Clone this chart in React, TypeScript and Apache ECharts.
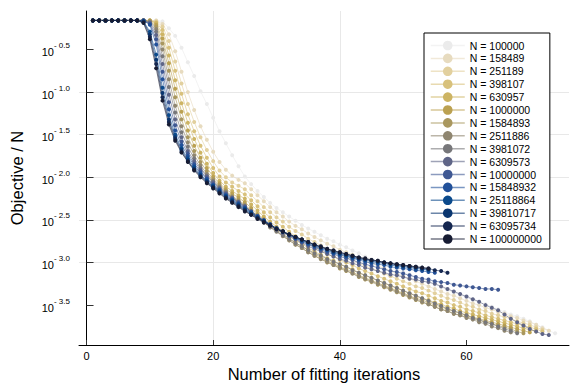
import React, { useEffect, useRef } from "react";
import * as echarts from "echarts";

// Objective / N is stored as log10 exponents (y axis is logarithmic, labelled 10^x).
const seriesNames = [
  "N = 100000", "N = 158489", "N = 251189", "N = 398107", "N = 630957",
  "N = 1000000", "N = 1584893", "N = 2511886", "N = 3981072", "N = 6309573",
  "N = 10000000", "N = 15848932", "N = 25118864", "N = 39810717", "N = 63095734",
  "N = 100000000",
];
const colors = [
  "#ebebeb", "#e7dbbf", "#e2d09e", "#d8c17b", "#cdb463",
  "#bba151", "#a9975e", "#8f8670", "#77777a", "#5f6587",
  "#3f5893", "#22519a", "#0b4a8c", "#0a3670", "#152750",
  "#171c33",
];
const xTicks = [0, 20, 40, 60];
const yTickExponents = [-3.5, -3.0, -2.5, -2.0, -1.5, -1.0, -0.5];

const s0 = [-0.159,-0.159,-0.159,-0.159,-0.159,-0.159,-0.159,-0.159,-0.159,-0.159,-0.159,
  -0.17,-0.25,-0.34,-0.48,-0.65,-0.81,-0.99,-1.14,-1.30,-1.46,-1.60,-1.74,-1.87,-1.99,
  -2.08,-2.16,-2.23,-2.30,-2.36,-2.41,-2.46,-2.51,-2.56,-2.60,-2.64,-2.68,-2.72,-2.75,-2.79,
  -2.82,-2.86,-2.89,-2.93,-2.96,-2.99,-3.02,-3.05,-3.08,-3.11,-3.14,-3.17,-3.20,-3.23,-3.26,
  -3.29,-3.32,-3.35,-3.38,-3.41,-3.44,-3.47,-3.49,-3.52,-3.55,-3.58,-3.61,-3.63,-3.66,-3.69,-3.73,-3.76,-3.80,-3.83];
const s1 = [-0.159,-0.159,-0.159,-0.159,-0.159,-0.159,-0.159,-0.159,-0.159,-0.159,
  -0.16,-0.20,-0.32,-0.52,-0.76,-1.00,-1.21,-1.40,-1.56,-1.70,-1.82,-1.91,-1.98,-2.03,-2.07,
  -2.14,-2.21,-2.28,-2.35,-2.41,-2.46,-2.52,-2.57,-2.61,-2.66,-2.70,-2.74,-2.78,-2.81,-2.85,
  -2.88,-2.91,-2.95,-2.98,-3.01,-3.04,-3.07,-3.10,-3.13,-3.16,-3.19,-3.22,-3.25,-3.28,-3.31,
  -3.34,-3.37,-3.39,-3.42,-3.45,-3.48,-3.50,-3.53,-3.55,-3.58,-3.60,-3.63,-3.65,-3.68,-3.70,-3.73,-3.77,-3.80];
const s2 = [-0.159,-0.159,-0.159,-0.159,-0.159,-0.159,-0.159,-0.159,-0.159,-0.159,
  -0.17,-0.23,-0.40,-0.64,-0.90,-1.14,-1.35,-1.53,-1.68,-1.81,-1.92,-2.00,-2.06,-2.10,-2.14,
  -2.21,-2.28,-2.35,-2.41,-2.47,-2.52,-2.58,-2.63,-2.67,-2.72,-2.76,-2.80,-2.84,-2.87,-2.91,
  -2.94,-2.97,-3.01,-3.04,-3.07,-3.10,-3.13,-3.16,-3.19,-3.22,-3.25,-3.28,-3.30,-3.33,-3.36,
  -3.39,-3.42,-3.44,-3.47,-3.50,-3.52,-3.55,-3.57,-3.60,-3.62,-3.64,-3.66,-3.69,-3.71,-3.73,-3.76,-3.79];
const s3 = [-0.159,-0.159,-0.159,-0.159,-0.159,-0.159,-0.159,-0.159,-0.159,-0.159,
  -0.18,-0.27,-0.48,-0.75,-1.02,-1.26,-1.46,-1.63,-1.77,-1.89,-1.99,-2.06,-2.11,-2.16,-2.20,
  -2.27,-2.34,-2.41,-2.47,-2.53,-2.58,-2.64,-2.69,-2.73,-2.78,-2.82,-2.86,-2.90,-2.93,-2.97,
  -3.00,-3.03,-3.07,-3.10,-3.13,-3.16,-3.19,-3.22,-3.25,-3.28,-3.31,-3.34,-3.36,-3.39,-3.42,
  -3.45,-3.47,-3.50,-3.52,-3.55,-3.57,-3.59,-3.62,-3.64,-3.66,-3.68,-3.70,-3.72,-3.74,-3.76,-3.78,-3.81];
const s4 = [-0.159,-0.159,-0.159,-0.159,-0.159,-0.159,-0.159,-0.159,-0.159,-0.159,
  -0.19,-0.32,-0.57,-0.86,-1.13,-1.36,-1.55,-1.71,-1.84,-1.95,-2.04,-2.11,-2.16,-2.21,-2.25,
  -2.32,-2.39,-2.46,-2.52,-2.58,-2.63,-2.69,-2.74,-2.78,-2.83,-2.87,-2.91,-2.95,-2.98,-3.02,
  -3.05,-3.08,-3.12,-3.15,-3.18,-3.21,-3.24,-3.27,-3.30,-3.33,-3.36,-3.39,-3.42,-3.44,-3.47,
  -3.49,-3.52,-3.54,-3.57,-3.59,-3.61,-3.63,-3.65,-3.67,-3.69,-3.71,-3.73,-3.75,-3.77,-3.79,-3.81];
const s5 = [-0.159,-0.159,-0.159,-0.159,-0.159,-0.159,-0.159,-0.159,-0.159,
  -0.16,-0.21,-0.37,-0.66,-0.96,-1.23,-1.45,-1.63,-1.77,-1.89,-1.99,-2.07,-2.14,-2.19,-2.24,-2.29,
  -2.36,-2.43,-2.49,-2.55,-2.61,-2.66,-2.72,-2.77,-2.81,-2.86,-2.90,-2.94,-2.98,-3.01,-3.05,
  -3.08,-3.11,-3.15,-3.18,-3.21,-3.24,-3.27,-3.30,-3.33,-3.36,-3.39,-3.42,-3.44,-3.47,-3.50,
  -3.52,-3.55,-3.57,-3.60,-3.62,-3.64,-3.66,-3.68,-3.70,-3.72,-3.74,-3.76,-3.78,-3.80,-3.82];
const s6 = [-0.159,-0.159,-0.159,-0.159,-0.159,-0.159,-0.159,-0.159,-0.159,
  -0.17,-0.23,-0.43,-0.75,-1.06,-1.32,-1.53,-1.69,-1.82,-1.93,-2.02,-2.09,-2.16,-2.22,-2.27,-2.32,
  -2.39,-2.45,-2.52,-2.58,-2.63,-2.69,-2.74,-2.79,-2.83,-2.88,-2.92,-2.96,-3.00,-3.03,-3.07,
  -3.10,-3.13,-3.17,-3.20,-3.23,-3.26,-3.29,-3.32,-3.35,-3.38,-3.41,-3.44,-3.47,-3.49,-3.52,
  -3.55,-3.57,-3.60,-3.62,-3.64,-3.66,-3.68,-3.70,-3.72,-3.74,-3.76,-3.78,-3.81,-3.83];
const s7 = [-0.159,-0.159,-0.159,-0.159,-0.159,-0.159,-0.159,-0.159,-0.159,
  -0.17,-0.26,-0.50,-0.85,-1.16,-1.40,-1.59,-1.74,-1.86,-1.96,-2.04,-2.11,-2.17,-2.23,-2.28,-2.33,
  -2.40,-2.47,-2.53,-2.59,-2.64,-2.69,-2.74,-2.79,-2.83,-2.88,-2.92,-2.96,-2.99,-3.03,-3.06,
  -3.09,-3.13,-3.16,-3.19,-3.22,-3.25,-3.28,-3.31,-3.34,-3.37,-3.40,-3.43,-3.46,-3.49,-3.52,
  -3.55,-3.57,-3.60,-3.62,-3.65,-3.67,-3.70,-3.72,-3.75,-3.77,-3.80,-3.82];
const s8 = [-0.159,-0.159,-0.159,-0.159,-0.159,-0.159,-0.159,-0.159,-0.159,
  -0.18,-0.29,-0.58,-0.94,-1.24,-1.47,-1.64,-1.78,-1.89,-1.98,-2.05,-2.12,-2.18,-2.24,-2.29,-2.34,
  -2.41,-2.47,-2.53,-2.58,-2.63,-2.68,-2.72,-2.77,-2.81,-2.85,-2.89,-2.92,-2.96,-2.99,-3.02,
  -3.05,-3.09,-3.12,-3.15,-3.18,-3.21,-3.24,-3.27,-3.30,-3.33,-3.36,-3.39,-3.42,-3.45,-3.48,
  -3.51,-3.54,-3.57,-3.59,-3.62,-3.65,-3.67,-3.70,-3.72,-3.75,-3.78,-3.80,-3.83];
const s9 = [-0.159,-0.159,-0.159,-0.159,-0.159,-0.159,-0.159,-0.159,-0.159,
  -0.19,-0.33,-0.67,-1.03,-1.32,-1.53,-1.69,-1.81,-1.91,-1.99,-2.06,-2.13,-2.19,-2.24,-2.29,-2.34,
  -2.40,-2.46,-2.51,-2.56,-2.61,-2.65,-2.69,-2.73,-2.77,-2.81,-2.84,-2.87,-2.90,-2.93,-2.96,
  -2.98,-3.01,-3.03,-3.06,-3.08,-3.10,-3.12,-3.14,-3.15,-3.17,-3.19,-3.20,-3.22,-3.23,-3.25,
  -3.28,-3.31,-3.34,-3.37,-3.40,-3.43,-3.46,-3.50,-3.53,-3.56,-3.61,-3.66,-3.70,-3.74,-3.78,-3.81,-3.84,-3.85];
const s10 = [-0.159,-0.159,-0.159,-0.159,-0.159,-0.159,-0.159,-0.159,-0.159,
  -0.20,-0.38,-0.76,-1.12,-1.39,-1.58,-1.72,-1.84,-1.93,-2.01,-2.08,-2.14,-2.20,-2.25,-2.30,-2.35,
  -2.40,-2.45,-2.50,-2.55,-2.60,-2.64,-2.68,-2.72,-2.76,-2.79,-2.82,-2.85,-2.88,-2.90,-2.93,
  -2.95,-2.97,-3.00,-3.02,-3.04,-3.06,-3.08,-3.10,-3.11,-3.13,-3.15,-3.17,-3.19,-3.20,-3.22,
  -3.23,-3.24,-3.26,-3.27,-3.28,-3.29,-3.30,-3.31,-3.31,-3.32];
const s11 = [-0.159,-0.159,-0.159,-0.159,-0.159,-0.159,-0.159,-0.159,-0.159,
  -0.21,-0.44,-0.85,-1.20,-1.45,-1.62,-1.75,-1.86,-1.95,-2.02,-2.09,-2.15,-2.21,-2.26,-2.31,-2.36,
  -2.41,-2.46,-2.51,-2.55,-2.60,-2.64,-2.68,-2.71,-2.75,-2.78,-2.81,-2.84,-2.86,-2.89,-2.91,
  -2.93,-2.95,-2.97,-2.99,-3.01,-3.02,-3.03,-3.05,-3.06,-3.07,-3.08,-3.09,-3.10,-3.11,-3.12];
const s12 = [-0.159,-0.159,-0.159,-0.159,-0.159,-0.159,-0.159,-0.159,-0.17,
  -0.29,-0.56,-0.95,-1.27,-1.50,-1.66,-1.78,-1.88,-1.97,-2.04,-2.10,-2.16,-2.22,-2.27,-2.32,-2.37,
  -2.42,-2.47,-2.51,-2.56,-2.60,-2.64,-2.67,-2.71,-2.74,-2.77,-2.80,-2.83,-2.85,-2.88,-2.90,
  -2.92,-2.94,-2.96,-2.97,-2.99,-3.00,-3.01,-3.03,-3.04,-3.05,-3.06,-3.07,-3.08,-3.09];
const s13 = [-0.159,-0.159,-0.159,-0.159,-0.159,-0.159,-0.159,-0.159,-0.17,
  -0.32,-0.62,-1.01,-1.32,-1.53,-1.68,-1.80,-1.90,-1.98,-2.05,-2.11,-2.17,-2.23,-2.28,-2.33,-2.38,
  -2.43,-2.47,-2.52,-2.56,-2.60,-2.64,-2.67,-2.70,-2.73,-2.76,-2.79,-2.82,-2.84,-2.87,-2.89,
  -2.91,-2.93,-2.95,-2.96,-2.98,-2.99,-3.00,-3.01,-3.03,-3.04,-3.05,-3.06,-3.07,-3.08];
const s14 = [-0.159,-0.159,-0.159,-0.159,-0.159,-0.159,-0.159,-0.159,-0.18,
  -0.35,-0.67,-1.06,-1.35,-1.55,-1.70,-1.81,-1.91,-1.99,-2.06,-2.12,-2.18,-2.24,-2.29,-2.34,-2.39,
  -2.44,-2.48,-2.52,-2.56,-2.60,-2.63,-2.67,-2.70,-2.73,-2.76,-2.79,-2.81,-2.84,-2.86,-2.88,
  -2.90,-2.92,-2.94,-2.96,-2.97,-2.98,-3.00,-3.01,-3.02,-3.03,-3.04,-3.05,-3.06,-3.07,-3.09,-3.10,-3.12];
const s15 = [-0.159,-0.159,-0.159,-0.159,-0.159,-0.159,-0.159,-0.159,-0.19,
  -0.38,-0.72,-1.10,-1.38,-1.57,-1.71,-1.82,-1.92,-2.00,-2.07,-2.13,-2.19,-2.25,-2.30,-2.35,-2.40,
  -2.44,-2.49,-2.53,-2.57,-2.61,-2.64,-2.67,-2.70,-2.73,-2.76,-2.79,-2.82,-2.84,-2.86,-2.88,
  -2.90,-2.92,-2.94,-2.95,-2.97,-2.98,-3.00,-3.01,-3.02,-3.03,-3.04,-3.05,-3.06,-3.07];

const allSeries = [s0, s1, s2, s3, s4, s5, s6, s7, s8, s9, s10, s11, s12, s13, s14, s15];

const FONT = "'Liberation Sans', Arial, Helvetica, sans-serif";

export default function App() {
  const ref = useRef<HTMLDivElement>(null);
  useEffect(() => {
    if (!ref.current) return;
    const chart = echarts.init(ref.current, null, { renderer: "svg" });
    const series = allSeries.map((arr, k) => ({
      name: seriesNames[k],
      type: "line",
      data: arr.map((v, i) => [i + 1, v]),
      symbol: "circle",
      symbolSize: 4,
      silent: true,
      lineStyle: { width: 1, color: colors[k], opacity: 0.6 },
      itemStyle: { color: colors[k] },
      emphasis: { disabled: true },
    }));
    chart.setOption({
      animation: false,
      backgroundColor: "#ffffff",
      textStyle: { fontFamily: FONT },
      grid: { left: 77, right: 12, top: 11, bottom: 43 },
      xAxis: {
        type: "value",
        min: -1.19,
        max: 76.19,
        splitNumber: 4,
        name: "Number of fitting iterations",
        nameLocation: "middle",
        nameGap: 18,
        nameTextStyle: { fontSize: 16.5, color: "#000", fontFamily: FONT },
        axisLine: { onZero: false, lineStyle: { color: "#000", width: 1 } },
        axisTick: { inside: true, length: 5, customValues: xTicks, lineStyle: { color: "#333" } },
        axisLabel: { customValues: xTicks, fontSize: 11, color: "#000", margin: 5, fontFamily: FONT },
        splitLine: { show: true, showMinLine: false, showMaxLine: false, lineStyle: { color: "#e8e8e8", width: 1 } },
      },
      yAxis: {
        type: "value",
        min: -3.968,
        max: -0.048,
        splitNumber: 8,
        name: "Objective / N",
        nameLocation: "middle",
        nameGap: 54,
        nameTextStyle: { fontSize: 16.5, color: "#000", fontFamily: FONT },
        axisLine: { show: true, lineStyle: { color: "#000", width: 1 } },
        axisTick: { show: true, inside: true, length: 7, customValues: yTickExponents, lineStyle: { color: "#333" } },
        axisLabel: {
          customValues: yTickExponents,
          margin: 9,
          formatter: (v: number) => `{b|10}{s|- ${Math.abs(v).toFixed(1)}}`,
          rich: {
            b: { fontSize: 11, color: "#000", fontFamily: FONT, lineHeight: 16, verticalAlign: "bottom" },
            s: { fontSize: 8, color: "#000", fontFamily: FONT, lineHeight: 16, verticalAlign: "top" },
          },
        },
        splitLine: { show: true, showMinLine: false, showMaxLine: false, lineStyle: { color: "#e8e8e8", width: 1 } },
      },
      legend: {
        data: seriesNames,
        orient: "vertical",
        left: 424,
        top: 33,
        padding: [6.5, 8, 4, 6],
        itemWidth: 34,
        itemHeight: 12,
        itemGap: 0.9,
        backgroundColor: "#ffffff",
        borderColor: "#000",
        borderWidth: 1,
        borderRadius: 0,
        selectedMode: false,
        lineStyle: { width: 1.5 },
        textStyle: { fontSize: 10.5, color: "#000", fontFamily: FONT, lineHeight: 12 },
      },
      series,
    });
    return () => chart.dispose();
  }, []);
  return <div ref={ref} style={{ position: "fixed", left: 0, top: 0, width: 581, height: 388 }} />;
}
